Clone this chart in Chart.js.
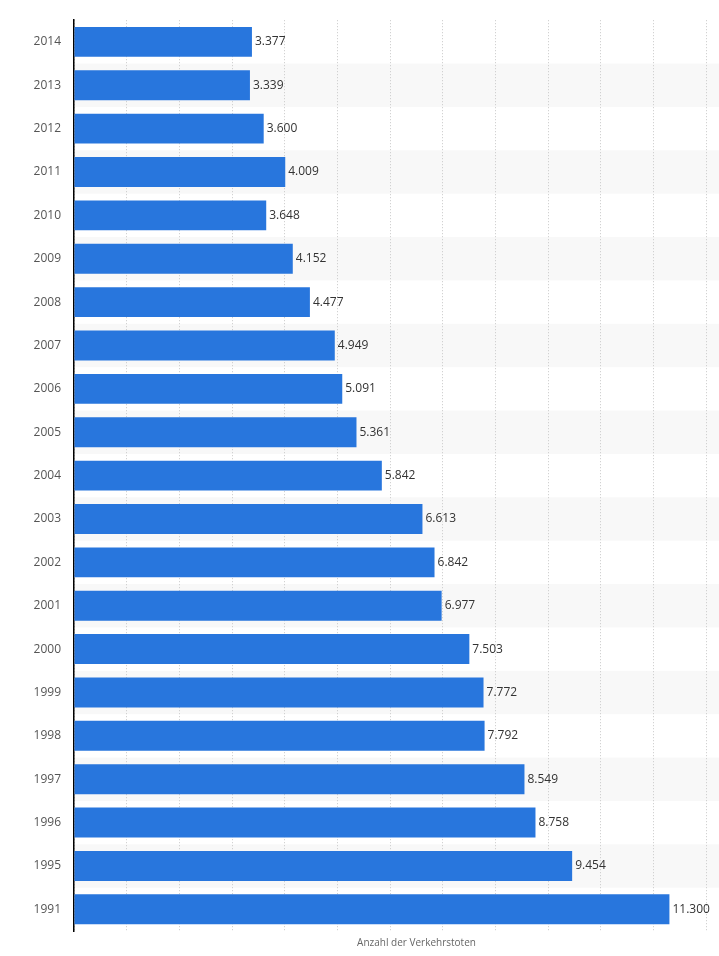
<!DOCTYPE html>
<html>
<head>
<meta charset="utf-8">
<script src="https://cdn.jsdelivr.net/npm/chart.js@4"></script>
<style>
  html, body { margin: 0; padding: 0; background: #fff; overflow: hidden; }
  #wrap { position: relative; width: 759px; height: 956px; }
</style>
</head>
<body>
<div id="wrap"><canvas id="c"></canvas></div>
<script>
const years = ["2014","2013","2012","2011","2010","2009","2008","2007","2006","2005","2004","2003","2002","2001","2000","1999","1998","1997","1996","1995","1991"];
const deaths = [3377,3339,3600,4009,3648,4152,4477,4949,5091,5361,5842,6613,6842,6977,7503,7772,7792,8549,8758,9454,11300];
const axisTitle = "Anzahl der Verkehrstoten";

const FONT = "'Open Sans', 'DejaVu Sans', sans-serif";

function fmt(v) {
  return String(v).replace(/\B(?=(\d{3})+(?!\d))/g, ".");
}

const bandPlugin = {
  id: 'bands',
  beforeDraw(chart) {
    const {ctx, chartArea} = chart;
    const ys = chart.scales.y;
    const h = Math.abs(ys.getPixelForValue(1) - ys.getPixelForValue(0));
    ctx.save();
    ctx.fillStyle = '#f8f8f8';
    for (let i = 1; i < years.length; i += 2) {
      const y = ys.getPixelForValue(i);
      ctx.fillRect(chartArea.left, y - h / 2, chartArea.right - chartArea.left, h);
    }
    ctx.restore();
  }
};

const labelPlugin = {
  id: 'valueLabels',
  afterDatasetsDraw(chart) {
    const {ctx} = chart;
    const meta = chart.getDatasetMeta(0);
    ctx.save();
    ctx.font = "12px " + FONT;
    ctx.fillStyle = '#333333';
    ctx.textAlign = 'left';
    ctx.textBaseline = 'middle';
    meta.data.forEach((bar, i) => {
      ctx.fillText(fmt(deaths[i]), bar.x + 3, bar.y);
    });
    ctx.restore();
  }
};

new Chart(document.getElementById('c'), {
  type: 'bar',
  data: {
    labels: years,
    datasets: [{
      data: deaths,
      backgroundColor: '#2876dd',
      borderWidth: 0,
      categoryPercentage: 1,
      barPercentage: 0.69
    }]
  },
  options: {
    indexAxis: 'y',
    responsive: true,
    maintainAspectRatio: false,
    animation: false,
    layout: { padding: { top: 17, left: 0, right: 0, bottom: 0 } },
    plugins: {
      legend: { display: false },
      tooltip: { enabled: false }
    },
    scales: {
      x: {
        min: 0,
        max: 13000,
        ticks: { display: false, stepSize: 1000 },
        grid: { display: true, color: '#c8c8c8', lineWidth: 1, drawTicks: false },
        border: { display: false, dash: [1, 2] },
        title: {
          display: true,
          text: axisTitle,
          color: '#666666',
          font: { family: FONT, size: 10 },
          padding: { top: 6, bottom: 7 }
        }
      },
      y: {
        grid: { display: false, drawTicks: false },
        border: { display: true, color: '#000000', width: 1.5 },
        ticks: {
          color: '#555555',
          font: { family: FONT, size: 12 },
          padding: 13
        },
        afterFit(scale) { scale.width = 74; }
      }
    }
  },
  plugins: [bandPlugin, labelPlugin]
});
</script>
</body>
</html>
